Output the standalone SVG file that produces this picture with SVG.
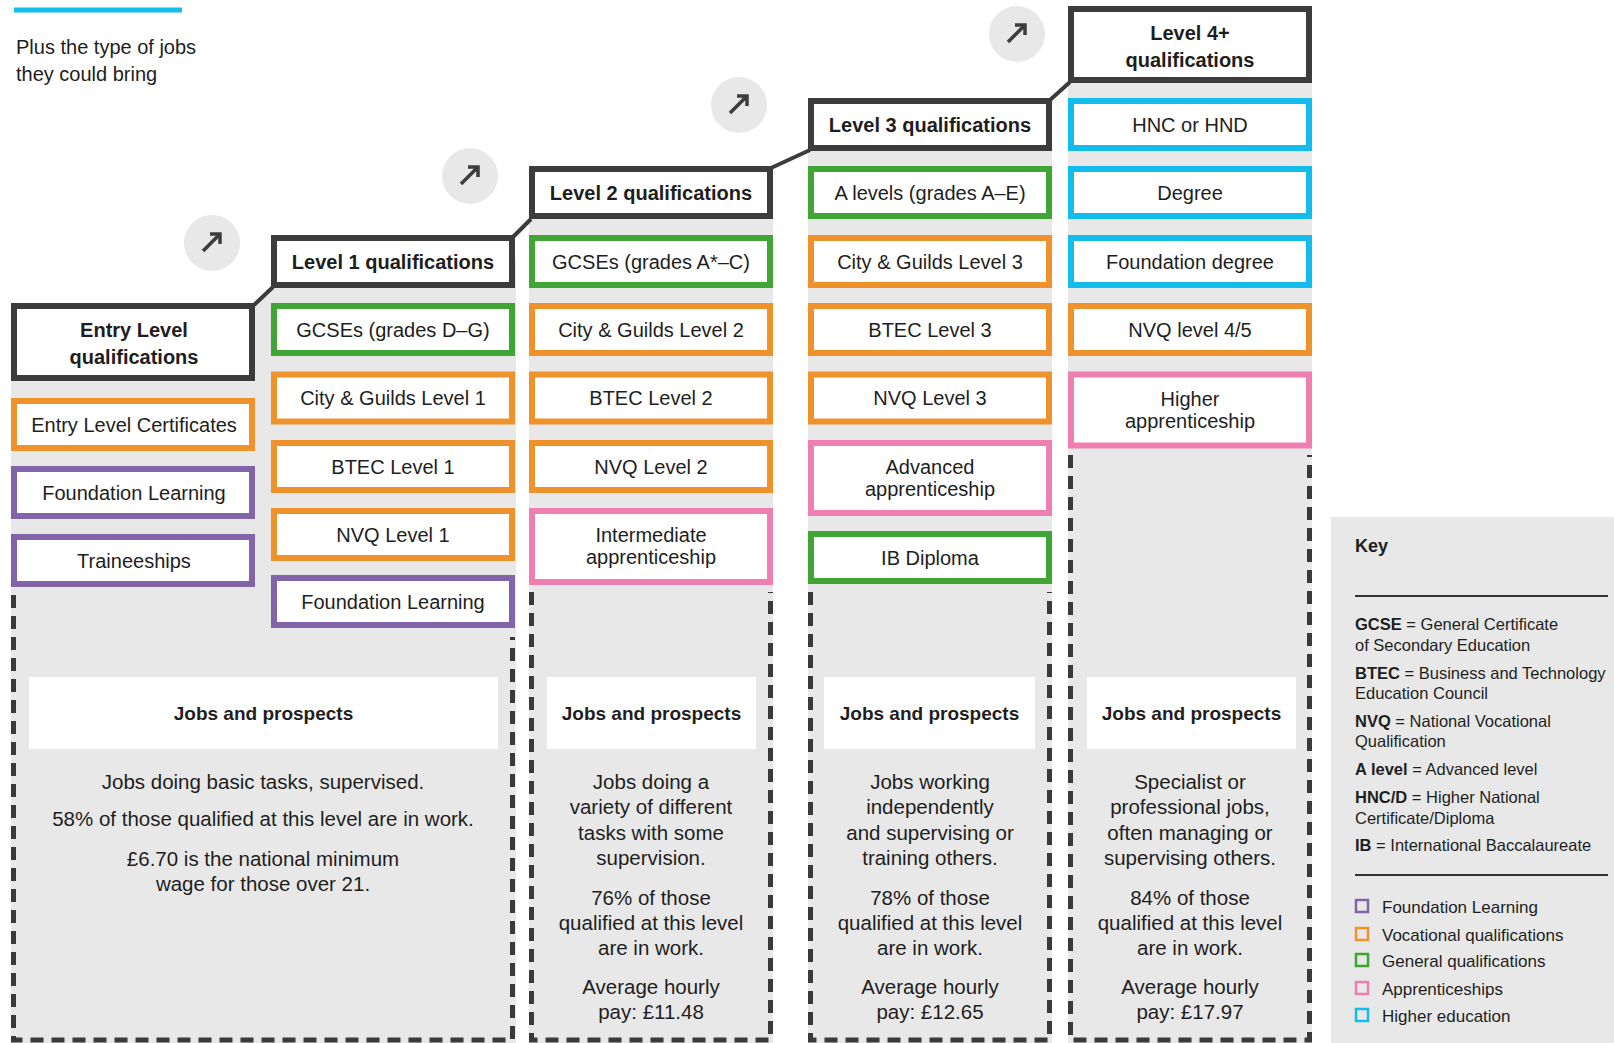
<svg xmlns="http://www.w3.org/2000/svg" width="1614" height="1043" viewBox="0 0 1614 1043">
<style>
text { font-family: "Liberation Sans", Arial, sans-serif; fill: #1e1e1e; }
.t { font-size: 20px; text-anchor: middle; }
.h { font-size: 20px; font-weight: bold; text-anchor: middle; }
.box { fill: #ffffff; stroke-width: 6; }
.hdr { stroke: #3c3c3c; }
.g { stroke: #41a535; }
.o { stroke: #ef922c; }
.p { stroke: #8265a9; }
.k { stroke: #ee7fb0; }
.b { stroke: #12bdee; }
.bg { fill: #e8e8e8; }
.dash { stroke: #3a3a3a; stroke-width: 5; stroke-dasharray: 13 8; fill: none; }
.jb { fill: #ffffff; }
.jt { font-size: 19px; font-weight: bold; text-anchor: middle; }
.body { font-size: 20.5px; text-anchor: middle; }
.conn { stroke: #3c3c3c; stroke-width: 4; fill: none; }
.circ { fill: #e8e8e8; }
.arr { stroke: #3c3c3c; stroke-width: 3.5; fill: none; }
.kd { font-size: 16.5px; }
.kl { font-size: 17px; }
.kline { stroke: #333333; stroke-width: 2; }
.sq { fill: none; stroke-width: 2.5; }
</style>

<!-- title -->
<g id="intro">
<rect x="14" y="7.5" width="168" height="5" fill="#13bdee"/>
<text x="16" y="54" font-size="20">Plus the type of jobs</text>
<text x="16" y="81" font-size="20">they could bring</text>
</g>

<!-- column backgrounds -->
<g id="backgrounds">
<rect class="bg" x="11" y="340" width="244" height="703"/>
<polygon class="bg" points="253,305 273,287 273,1043 253,1043"/>
<rect class="bg" x="271" y="260" width="245" height="783"/>
<rect class="bg" x="529" y="192" width="244" height="851"/>
<rect class="bg" x="808" y="124" width="244" height="919"/>
<rect class="bg" x="1068" y="44" width="244" height="999"/>
</g>

<!-- dashed borders -->
<g id="dashed-borders">
<path class="dash" d="M13.5,595 V1040 H512.5 V637"/>
<path class="dash" d="M531.5,592 V1040 H770.5 V592"/>
<path class="dash" d="M810.5,592 V1040 H1049.5 V592"/>
<path class="dash" d="M1070.5,455 V1040 H1309.5 V455"/>
</g>

<!-- arrow circles -->
<g id="arrows">
<circle class="circ" cx="212" cy="243" r="28"/>
<path class="arr" d="M203,251 L220,234 M210,234 H220 V244"/>
<circle class="circ" cx="470" cy="176" r="28"/>
<path class="arr" d="M461,184 L478,167 M468,167 H478 V177"/>
<circle class="circ" cx="739" cy="105" r="28"/>
<path class="arr" d="M730,113 L747,96 M737,96 H747 V106"/>
<circle class="circ" cx="1017" cy="34" r="28"/>
<path class="arr" d="M1008,42 L1025,25 M1015,25 H1025 V35"/>
</g>

<!-- connectors between level headers -->
<g id="connectors">
<line class="conn" x1="254" y1="305" x2="273" y2="287"/>
<line class="conn" x1="513" y1="237" x2="531" y2="219"/>
<line class="conn" x1="771" y1="168" x2="810" y2="150"/>
<line class="conn" x1="1050" y1="100" x2="1070" y2="82"/>
</g>

<!-- Entry level -->
<g id="entry-header"><rect class="box hdr" x="14" y="306" width="238" height="72"/>
<text class="h" x="134" y="337">Entry Level</text><text class="h" x="134" y="364">qualifications</text></g>
<g id="entry-certificates"><rect class="box o" x="14" y="401" width="238" height="47"/><text class="t" x="134" y="431.5">Entry Level Certificates</text></g>
<g id="entry-foundation"><rect class="box p" x="14" y="469" width="238" height="47"/><text class="t" x="134" y="499.5">Foundation Learning</text></g>
<g id="entry-traineeships"><rect class="box p" x="14" y="537" width="238" height="47"/><text class="t" x="134" y="567.5">Traineeships</text></g>

<!-- Level 1 -->
<g id="l1-header"><rect class="box hdr" x="274" y="238" width="238" height="47"/><text class="h" x="393" y="268.5">Level 1 qualifications</text></g>
<g id="l1-gcse"><rect class="box g" x="274" y="306" width="238" height="47"/><text class="t" x="393" y="336.5">GCSEs (grades D–G)</text></g>
<g id="l1-cg"><rect class="box o" x="274" y="374.5" width="238" height="47"/><text class="t" x="393" y="405">City &amp; Guilds Level 1</text></g>
<g id="l1-btec"><rect class="box o" x="274" y="443" width="238" height="47"/><text class="t" x="393" y="473.5">BTEC Level 1</text></g>
<g id="l1-nvq"><rect class="box o" x="274" y="511" width="238" height="47"/><text class="t" x="393" y="541.5">NVQ Level 1</text></g>
<g id="l1-foundation"><rect class="box p" x="274" y="578" width="238" height="47"/><text class="t" x="393" y="608.5">Foundation Learning</text></g>

<!-- Level 2 -->
<g id="l2-header"><rect class="box hdr" x="532" y="169" width="238" height="47"/><text class="h" x="651" y="199.5">Level 2 qualifications</text></g>
<g id="l2-gcse"><rect class="box g" x="532" y="238" width="238" height="47"/><text class="t" x="651" y="268.5">GCSEs (grades A*–C)</text></g>
<g id="l2-cg"><rect class="box o" x="532" y="306" width="238" height="47"/><text class="t" x="651" y="336.5">City &amp; Guilds Level 2</text></g>
<g id="l2-btec"><rect class="box o" x="532" y="374.5" width="238" height="47"/><text class="t" x="651" y="405">BTEC Level 2</text></g>
<g id="l2-nvq"><rect class="box o" x="532" y="443" width="238" height="47"/><text class="t" x="651" y="473.5">NVQ Level 2</text></g>
<g id="l2-intermediate"><rect class="box k" x="532" y="511" width="238" height="71"/>
<text class="t" x="651" y="542">Intermediate</text><text class="t" x="651" y="563.5">apprenticeship</text></g>

<!-- Level 3 -->
<g id="l3-header"><rect class="box hdr" x="811" y="101" width="238" height="47"/><text class="h" x="930" y="131.5">Level 3 qualifications</text></g>
<g id="l3-alevels"><rect class="box g" x="811" y="169" width="238" height="47"/><text class="t" x="930" y="199.5">A levels (grades A–E)</text></g>
<g id="l3-cg"><rect class="box o" x="811" y="238" width="238" height="47"/><text class="t" x="930" y="268.5">City &amp; Guilds Level 3</text></g>
<g id="l3-btec"><rect class="box o" x="811" y="306" width="238" height="47"/><text class="t" x="930" y="336.5">BTEC Level 3</text></g>
<g id="l3-nvq"><rect class="box o" x="811" y="374.5" width="238" height="47"/><text class="t" x="930" y="405">NVQ Level 3</text></g>
<g id="l3-advanced"><rect class="box k" x="811" y="443" width="238" height="70"/>
<text class="t" x="930" y="474">Advanced</text><text class="t" x="930" y="495.5">apprenticeship</text></g>
<g id="l3-ib"><rect class="box g" x="811" y="534" width="238" height="47"/><text class="t" x="930" y="564.5">IB Diploma</text></g>

<!-- Level 4+ -->
<g id="l4-header"><rect class="box hdr" x="1071" y="9" width="238" height="71"/>
<text class="h" x="1190" y="40">Level 4+</text><text class="h" x="1190" y="67">qualifications</text></g>
<g id="l4-hnc"><rect class="box b" x="1071" y="101" width="238" height="47"/><text class="t" x="1190" y="131.5">HNC or HND</text></g>
<g id="l4-degree"><rect class="box b" x="1071" y="169" width="238" height="47"/><text class="t" x="1190" y="199.5">Degree</text></g>
<g id="l4-foundation-degree"><rect class="box b" x="1071" y="238" width="238" height="47"/><text class="t" x="1190" y="268.5">Foundation degree</text></g>
<g id="l4-nvq"><rect class="box o" x="1071" y="306" width="238" height="47"/><text class="t" x="1190" y="336.5">NVQ level 4/5</text></g>
<g id="l4-higher"><rect class="box k" x="1071" y="374.5" width="238" height="71"/>
<text class="t" x="1190" y="406">Higher</text><text class="t" x="1190" y="427.5">apprenticeship</text></g>

<!-- Jobs and prospects panels -->
<g id="jobs-entry-l1">
<rect class="jb" x="29" y="677" width="469" height="72"/>
<text class="jt" x="263.5" y="720">Jobs and prospects</text>
<text class="body" x="263" y="789">Jobs doing basic tasks, supervised.</text>
<text class="body" x="263" y="826">58% of those qualified at this level are in work.</text>
<text class="body" x="263" y="866">£6.70 is the national minimum</text>
<text class="body" x="263" y="891">wage for those over 21.</text>
</g>
<g id="jobs-l2">
<rect class="jb" x="547" y="677" width="209" height="72"/>
<text class="jt" x="651.5" y="720">Jobs and prospects</text>
<text class="body" x="651" y="789">Jobs doing a</text>
<text class="body" x="651" y="814">variety of different</text>
<text class="body" x="651" y="840">tasks with some</text>
<text class="body" x="651" y="865">supervision.</text>
<text class="body" x="651" y="905">76% of those</text>
<text class="body" x="651" y="930">qualified at this level</text>
<text class="body" x="651" y="955">are in work.</text>
<text class="body" x="651" y="994">Average hourly</text>
<text class="body" x="651" y="1019">pay: £11.48</text>
</g>
<g id="jobs-l3">
<rect class="jb" x="824" y="677" width="211" height="72"/>
<text class="jt" x="929.5" y="720">Jobs and prospects</text>
<text class="body" x="930" y="789">Jobs working</text>
<text class="body" x="930" y="814">independently</text>
<text class="body" x="930" y="840">and supervising or</text>
<text class="body" x="930" y="865">training others.</text>
<text class="body" x="930" y="905">78% of those</text>
<text class="body" x="930" y="930">qualified at this level</text>
<text class="body" x="930" y="955">are in work.</text>
<text class="body" x="930" y="994">Average hourly</text>
<text class="body" x="930" y="1019">pay: £12.65</text>
</g>
<g id="jobs-l4">
<rect class="jb" x="1087" y="677" width="209" height="72"/>
<text class="jt" x="1191.5" y="720">Jobs and prospects</text>
<text class="body" x="1190" y="789">Specialist or</text>
<text class="body" x="1190" y="814">professional jobs,</text>
<text class="body" x="1190" y="840">often managing or</text>
<text class="body" x="1190" y="865">supervising others.</text>
<text class="body" x="1190" y="905">84% of those</text>
<text class="body" x="1190" y="930">qualified at this level</text>
<text class="body" x="1190" y="955">are in work.</text>
<text class="body" x="1190" y="994">Average hourly</text>
<text class="body" x="1190" y="1019">pay: £17.97</text>
</g>

<!-- Key -->
<g id="key">
<rect x="1331" y="517" width="283" height="526" fill="#e8e8e8"/>
<text x="1355" y="552" font-size="18" font-weight="bold">Key</text>
<line class="kline" x1="1355" y1="596" x2="1608" y2="596"/>
<text class="kd" x="1355" y="630"><tspan font-weight="bold">GCSE</tspan> = General Certificate</text>
<text class="kd" x="1355" y="651">of Secondary Education</text>
<text class="kd" x="1355" y="679"><tspan font-weight="bold">BTEC</tspan> = Business and Technology</text>
<text class="kd" x="1355" y="699">Education Council</text>
<text class="kd" x="1355" y="727"><tspan font-weight="bold">NVQ</tspan> = National Vocational</text>
<text class="kd" x="1355" y="747">Qualification</text>
<text class="kd" x="1355" y="775"><tspan font-weight="bold">A level</tspan> = Advanced level</text>
<text class="kd" x="1355" y="803"><tspan font-weight="bold">HNC/D</tspan> = Higher National</text>
<text class="kd" x="1355" y="824">Certificate/Diploma</text>
<text class="kd" x="1355" y="851"><tspan font-weight="bold">IB</tspan> = International Baccalaureate</text>
<line class="kline" x1="1355" y1="875" x2="1608" y2="875"/>
<rect class="sq p" x="1356" y="900" width="12" height="12"/>
<text class="kl" x="1382" y="913">Foundation Learning</text>
<rect class="sq o" x="1356" y="928" width="12" height="12"/>
<text class="kl" x="1382" y="941">Vocational qualifications</text>
<rect class="sq g" x="1356" y="954" width="12" height="12"/>
<text class="kl" x="1382" y="967">General qualifications</text>
<rect class="sq k" x="1356" y="982" width="12" height="12"/>
<text class="kl" x="1382" y="995">Apprenticeships</text>
<rect class="sq b" x="1356" y="1009" width="12" height="12"/>
<text class="kl" x="1382" y="1022">Higher education</text>
</g>
</svg>
